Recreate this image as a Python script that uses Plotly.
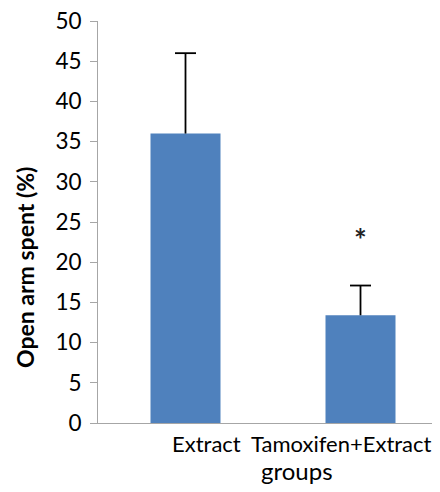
import plotly.graph_objects as go

categories = ["Extract", "Tamoxifen+Extract"]
values = [36.0, 13.4]
err_plus = [10.0, 3.7]
y_ticks = [0, 5, 10, 15, 20, 25, 30, 35, 40, 45, 50]
y_title = "Open arm spent (%)"
x_title = "groups"
sig_marks = ["", "*"]
sig_y = [None, 23.5]

x_pos = list(range(len(categories)))
tops = [v + e for v, e in zip(values, err_plus)]

fig = go.Figure()
fig.add_trace(go.Bar(
    x=x_pos, y=values, width=0.4,
    marker=dict(color="#4f81bd", line=dict(width=0)),
    showlegend=False, hoverinfo="skip",
))

# upper-only error bars: stem + cap (no cap at the bar top)
stem_x, stem_y = [], []
for xi, v, t in zip(x_pos, values, tops):
    stem_x += [xi, xi, None]
    stem_y += [v, t, None]
fig.add_trace(go.Scatter(x=stem_x, y=stem_y, mode="lines",
                         line=dict(color="#000", width=1.8),
                         showlegend=False, hoverinfo="skip"))
fig.add_trace(go.Scatter(x=x_pos, y=tops, mode="markers",
                         marker=dict(symbol="line-ew", size=15,
                                     line=dict(color="#000", width=1.8)),
                         showlegend=False, hoverinfo="skip"))

font = "Lato, 'Open Sans', sans-serif"

# category labels (placed like the original, slightly right of bar centres)
label_x = [0.12, 0.89]
for lx, c in zip(label_x, categories):
    fig.add_annotation(x=lx, y=0, xref="x", yref="y", text=c, showarrow=False,
                       yshift=-20, font=dict(family=font, size=22, color="#000"))
fig.add_annotation(x=0.636, y=0, xref="x", yref="y", text=x_title, showarrow=False,
                   yshift=-47, font=dict(family=font, size=24, color="#000"))

for xi, s, sy in zip(x_pos, sig_marks, sig_y):
    if s:
        fig.add_annotation(x=xi, y=sy, xref="x", yref="y", text="<b>" + s + "</b>",
                           showarrow=False, yshift=-5,
                           font=dict(family=font, size=30, color="#222"))

fig.add_annotation(x=-0.254, y=0.386, xref="paper", yref="paper", text="<b>" + y_title + "</b>",
                   textangle=-90, showarrow=False,
                   font=dict(family=font, size=23, color="#000"))

fig.update_layout(
    width=440, height=492,
    margin=dict(l=90, r=0, t=13, b=77),
    paper_bgcolor="white", plot_bgcolor="white",
    xaxis=dict(range=[-0.5, 1.5], showticklabels=False, ticks="",
               showgrid=False, zeroline=False, showline=True,
               linecolor="#a6a6a6", linewidth=1),
    yaxis=dict(range=[0, 50], tickvals=y_ticks, ticks="outside", ticklen=7,
               tickcolor="#a6a6a6", tickwidth=1, showgrid=False, zeroline=False,
               showline=True, linecolor="#a6a6a6", linewidth=1,
               ticklabelstandoff=4, ticklabeloverflow="allow",
               tickfont=dict(family=font, size=22.5, color="#000")),
)

fig.write_html("out.html")
